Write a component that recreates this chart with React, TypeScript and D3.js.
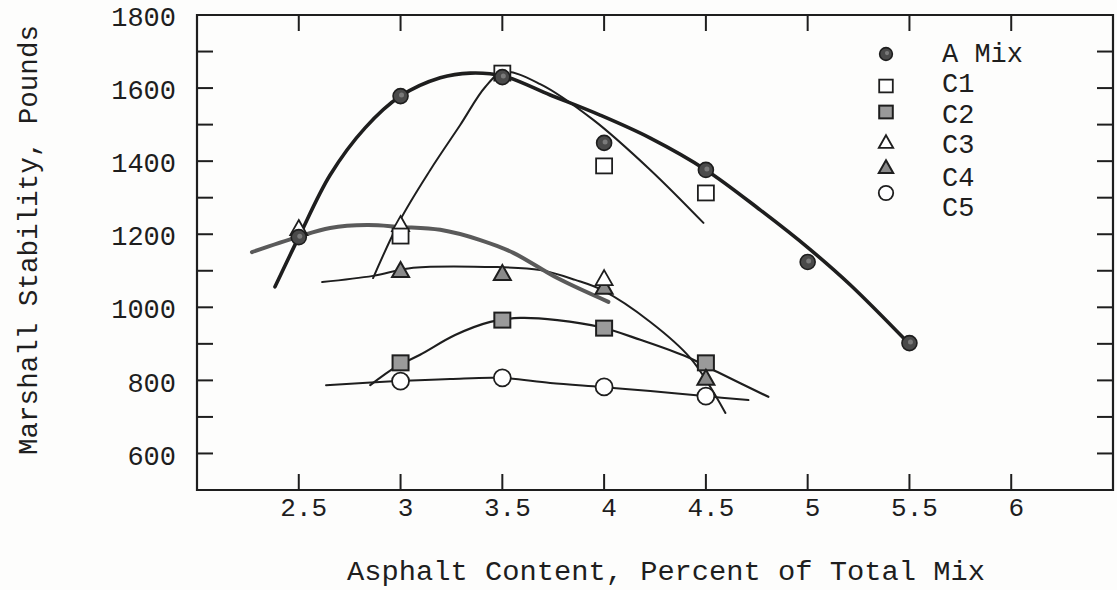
import React from "react";
import * as d3 from "d3";

// Asphalt content (percent of total mix) vs Marshall stability (pounds)
const xTicks = [2.5, 3, 3.5, 4, 4.5, 5, 5.5, 6];
const xTickLabels = ["2.5", "3", "3.5", "4", "4.5", "5", "5.5", "6"];
const yTicks = [600, 800, 1000, 1200, 1400, 1600, 1800];
const yMinorTicks = [500, 600, 700, 800, 900, 1000, 1100, 1200, 1300, 1400, 1500, 1600, 1700, 1800];

// Test points [asphalt %, stability lb]
const aMix: [number, number][] = [[2.5, 1192], [3, 1578], [3.5, 1630], [4, 1450], [4.5, 1376], [5, 1124], [5.5, 902]];
const c1: [number, number][] = [[3, 1195], [3.5, 1641], [4, 1387], [4.5, 1313]];
const c2: [number, number][] = [[3, 848], [3.5, 965], [4, 943], [4.5, 848]];
const c3: [number, number][] = [[2.5, 1217], [3, 1228], [4, 1080]];
const c4: [number, number][] = [[3, 1102], [3.5, 1094], [4, 1056], [4.5, 807]];
const c5: [number, number][] = [[3, 798], [3.5, 807], [4, 782], [4.5, 757]];

// Hand-faired trend curves
const aMixCurve: [number, number][] = [[2.383, 1056], [2.5, 1192], [2.654, 1362], [2.826, 1491], [3, 1578], [3.195, 1628], [3.342, 1641], [3.504, 1633], [3.735, 1581], [3.98, 1526], [4.227, 1463], [4.5, 1376], [4.768, 1266], [5.004, 1162], [5.21, 1061], [5.495, 902]];
const c1Curve: [number, number][] = [[2.865, 1080], [2.998, 1239], [3.146, 1376], [3.293, 1499], [3.416, 1603], [3.504, 1644], [3.686, 1611], [3.947, 1513], [4.227, 1376], [4.488, 1231]];
const c2Curve: [number, number][] = [[2.851, 787], [2.983, 839], [3.096, 870], [3.268, 924], [3.441, 960], [3.588, 971], [3.77, 965], [3.981, 946], [4.178, 911], [4.409, 864], [4.557, 823], [4.807, 755]];
const c3Curve: [number, number][] = [[2.27, 1151], [2.492, 1192], [2.654, 1217], [2.836, 1225], [2.998, 1220], [3.195, 1212], [3.392, 1184], [3.554, 1149], [3.77, 1080], [4.021, 1015]];
const c4Curve: [number, number][] = [[2.615, 1069], [2.865, 1086], [3.062, 1108], [3.475, 1110], [3.686, 1102], [3.858, 1075], [3.991, 1047], [4.227, 960], [4.424, 861], [4.596, 711]];
const c5Curve: [number, number][] = [[2.634, 787], [2.983, 798], [3.244, 804], [3.49, 807], [3.735, 793], [3.986, 782], [4.227, 771], [4.493, 757], [4.709, 746]];

const legendLabels = ["A Mix", "C1", "C2", "C3", "C4", "C5"];
const legendKinds = ["dot", "square", "graySquare", "triangle", "filledTriangle", "circle"];

const W = 1117;
const H = 590;
const INK = "#1e1e1e";
const FONT = "'Liberation Mono', 'Courier New', monospace";

const x = d3.scaleLinear().domain([2, 6.5]).range([197, 1113]);
const y = d3.scaleLinear().domain([500, 1800]).range([490, 15]);

const line = d3
  .line<[number, number]>()
  .x((d) => x(d[0]))
  .y((d) => y(d[1]))
  .curve(d3.curveCatmullRom.alpha(0.5));

function Marker({ kind, cx, cy, s = 1 }: { kind: string; cx: number; cy: number; s?: number }) {
  switch (kind) {
    case "dot":
      return (
        <g>
          <circle cx={cx} cy={cy} r={7.5 * s} fill="#4a4a4a" stroke={INK} strokeWidth={1.6} />
          <circle cx={cx + 1} cy={cy - 1} r={2.5 * s} fill="#7a7a7a" />
        </g>
      );
    case "square":
      return <rect x={cx - 8 * s} y={cy - 7.5 * s} width={16 * s} height={15 * s} fill="#fff" stroke={INK} strokeWidth={1.8} />;
    case "graySquare":
      return <rect x={cx - 8 * s} y={cy - 7.5 * s} width={16 * s} height={15 * s} fill="#9a9a9a" stroke={INK} strokeWidth={2} />;
    case "triangle":
      return (
        <path
          d={`M${cx},${cy - 8 * s}L${cx + 8.5 * s},${cy + 7 * s}L${cx - 8.5 * s},${cy + 7 * s}Z`}
          fill="#fff"
          stroke={INK}
          strokeWidth={1.8}
          strokeLinejoin="miter"
        />
      );
    case "filledTriangle":
      return (
        <g>
          <path
            d={`M${cx},${cy - 8 * s}L${cx + 8.5 * s},${cy + 7 * s}L${cx - 8.5 * s},${cy + 7 * s}Z`}
            fill="#8a8a8a"
            stroke={INK}
            strokeWidth={2}
          />
        </g>
      );
    case "circle":
      return <circle cx={cx} cy={cy} r={8.5 * s} fill="#fff" stroke={INK} strokeWidth={1.8} />;
    default:
      return null;
  }
}

const series: { data: [number, number][]; kind: string }[] = [
  { data: c5, kind: "circle" },
  { data: c2, kind: "graySquare" },
  { data: c4, kind: "filledTriangle" },
  { data: c3, kind: "triangle" },
  { data: c1, kind: "square" },
  { data: aMix, kind: "dot" },
];

const curves: { data: [number, number][]; width: number; color: string }[] = [
  { data: c5Curve, width: 2, color: INK },
  { data: c2Curve, width: 2.2, color: INK },
  { data: c4Curve, width: 2, color: INK },
  { data: c3Curve, width: 4, color: "#5a5a5a" },
  { data: c1Curve, width: 2, color: INK },
  { data: aMixCurve, width: 3.6, color: INK },
];

const legendMarkerY = [54, 86, 112, 142, 167, 193];
const legendTextY = [62, 92, 123, 153, 186, 216];

export default function App() {
  const [x0, x1] = x.range();
  const [y0, y1] = y.range();
  const tickLen = 16;
  return (
    <div style={{ position: "absolute", left: 0, top: 0 }}>
      <svg width={W} height={H} style={{ display: "block", background: "#fdfdfc" }}>
        {/* frame */}
        <path d={`M${x0},${y1}H${x1}V${y0}H${x0}Z`} fill="none" stroke={INK} strokeWidth={2.2} />

        {/* y ticks on both sides */}
        {yMinorTicks.map((t) => (
          <g key={"yt" + t}>
            <line x1={x0} x2={x0 + tickLen} y1={y(t)} y2={y(t)} stroke={INK} strokeWidth={2} />
            <line x1={x1} x2={x1 - tickLen} y1={y(t)} y2={y(t)} stroke={INK} strokeWidth={2} />
          </g>
        ))}
        {/* x ticks on top and bottom */}
        {xTicks.map((t) => (
          <g key={"xt" + t}>
            <line x1={x(t)} x2={x(t)} y1={y0} y2={y0 - tickLen} stroke={INK} strokeWidth={2} />
            <line x1={x(t)} x2={x(t)} y1={y1} y2={y1 + tickLen} stroke={INK} strokeWidth={2} />
          </g>
        ))}

        {/* tick labels */}
        {yTicks.map((t) => (
          <text key={"yl" + t} x={176} y={y(t) + 4} textAnchor="end" dominantBaseline="middle" fontFamily={FONT} fontSize={27} fill={INK}>
            {t}
          </text>
        ))}
        {xTicks.map((t, i) => (
          <text key={"xl" + t} x={x(t) + 5} y={516} textAnchor="middle" fontFamily={FONT} fontSize={26} fill={INK}>
            {xTickLabels[i]}
          </text>
        ))}

        {/* axis titles */}
        <text
          x={666}
          y={580}
          textAnchor="middle"
          fontFamily={FONT}
          fontSize={27}
          fill={INK}
          textLength={638}
          lengthAdjust="spacingAndGlyphs"
        >
          Asphalt Content, Percent of Total Mix
        </text>
        <text
          transform="translate(37,240) rotate(-90)"
          textAnchor="middle"
          fontFamily={FONT}
          fontSize={27}
          fill={INK}
          textLength={430}
          lengthAdjust="spacingAndGlyphs"
        >
          Marshall Stability, Pounds
        </text>

        {/* trend curves */}
        {curves.map((c, i) => (
          <path key={"c" + i} d={line(c.data) || ""} fill="none" stroke={c.color} strokeWidth={c.width} strokeLinecap="round" />
        ))}

        {/* data points */}
        {series.map((s, i) => (
          <g key={"s" + i}>
            {s.data.map((d, j) => (
              <Marker key={j} kind={s.kind} cx={x(d[0])} cy={y(d[1])} />
            ))}
          </g>
        ))}

        {/* legend */}
        {legendLabels.map((label, i) => (
          <g key={"lg" + i}>
            <Marker kind={legendKinds[i]} cx={886} cy={legendMarkerY[i]} s={0.85} />
            <text x={942} y={legendTextY[i]} fontFamily={FONT} fontSize={27} fill={INK}>
              {label}
            </text>
          </g>
        ))}
      </svg>
    </div>
  );
}
